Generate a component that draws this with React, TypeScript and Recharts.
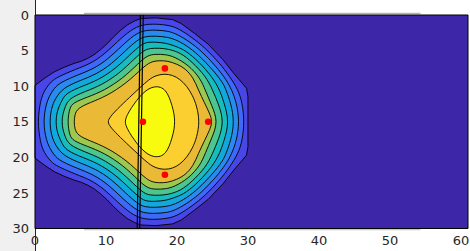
import { ComposedChart, Scatter, XAxis, YAxis, ReferenceLine } from "recharts";

type Pt = [number, number];

const xTicks = [0, 10, 20, 30, 40, 50, 60];
const yTicks = [0, 5, 10, 15, 20, 25, 30];

// parula-like fill colours, background first, then one per contour level
const levelColors = [
  "#3e26a8",
  "#4846e6",
  "#3e69f8",
  "#2a8bee",
  "#13a8dc",
  "#17bdbd",
  "#4cc58f",
  "#9dc850",
  "#eab935",
  "#fccf30",
  "#f9fb0e",
];

const frame: Pt[] = [[0, 0], [61, 0], [61, 30], [0, 30]];

// contour lines, outermost first
const level1: Pt[] = [
  [0, 9.9], [1.4, 8.85], [2.7, 8.0], [4.1, 7.35], [5.5, 6.8], [6.5, 6.5], [7.4, 6.1], [8.3, 5.6],
  [9.2, 4.9], [10.2, 4.0], [11.1, 3.05], [12.0, 2.2], [13.0, 1.4], [14.0, 0.85], [14.9, 0.5],
  [17.0, 0.4], [19.4, 0.65], [20.6, 1.2], [22.5, 2.6], [24.4, 4.1], [26.5, 6.3], [28.0, 8.2],
  [29.8, 10.3], [30.0, 11.5], [30.0, 18.5], [29.8, 19.7], [28.0, 21.8], [26.5, 23.7], [24.4, 25.9],
  [22.5, 27.4], [20.6, 28.8], [19.4, 29.35], [17.0, 29.6], [14.9, 29.5], [14.0, 29.15], [13.0, 28.6],
  [12.0, 27.8], [11.1, 26.95], [10.2, 26.0], [9.2, 25.1], [8.3, 24.4], [7.4, 23.9], [6.5, 23.5],
  [5.5, 23.2], [4.1, 22.65], [2.7, 22.0], [1.4, 21.15], [0, 20.1],
];
const level2: Pt[] = [
  [0.45, 15], [0.55, 13.6], [0.75, 12.3], [1.05, 11.2], [1.6, 10.2], [2.3, 9.35], [3.11, 8.74],
  [5.81, 7.59], [7.78, 6.86], [9.74, 5.56], [11.68, 3.67], [13.47, 2.11], [15.09, 1.33], [17.0, 1.25],
  [19.0, 1.45], [20.3, 1.95], [22.1, 3.15], [23.94, 4.59], [26.0, 6.75], [27.45, 8.65], [28.6, 10.5],
  [29.2, 12.3], [29.5, 15], [29.2, 17.7], [28.6, 19.5], [27.45, 21.35], [26.0, 23.25], [23.94, 25.41],
  [22.1, 26.85], [20.3, 28.05], [19.0, 28.55], [17.0, 28.75], [15.09, 28.67], [13.47, 27.89],
  [11.68, 26.33], [9.74, 24.44], [7.78, 23.14], [5.81, 22.41], [3.11, 21.26], [2.3, 20.65],
  [1.6, 19.8], [1.05, 18.8], [0.75, 17.7], [0.55, 16.4],
];
const level3: Pt[] = [
  [1.25, 15], [1.35, 13.7], [1.6, 12.5], [2.0, 11.4], [2.7, 10.3], [3.52, 9.49], [6.13, 8.38],
  [8.17, 7.61], [10.27, 6.23], [12.26, 4.3], [13.94, 2.82], [15.27, 2.16], [17.0, 2.1], [18.8, 2.25],
  [20.0, 2.7], [21.7, 3.7], [23.48, 5.08], [25.5, 7.2], [26.95, 9.1], [27.7, 10.5], [28.4, 12.3],
  [28.8, 15], [28.4, 17.7], [27.7, 19.5], [26.95, 20.9], [25.5, 22.8], [23.48, 24.92], [21.7, 26.3],
  [20.0, 27.3], [18.8, 27.75], [17.0, 27.9], [15.27, 27.84], [13.94, 27.18], [12.26, 25.7],
  [10.27, 23.77], [8.17, 22.39], [6.13, 21.62], [3.52, 20.51], [2.7, 19.7], [2.0, 18.6], [1.6, 17.5],
  [1.35, 16.3],
];
const level4: Pt[] = [
  [2.1, 15], [2.2, 13.8], [2.45, 12.7], [2.9, 11.7], [3.94, 10.23], [6.44, 9.17], [8.55, 8.37],
  [10.81, 6.89], [12.83, 4.92], [14.4, 3.53], [15.46, 2.99], [17.0, 2.95], [18.6, 3.1], [19.7, 3.4],
  [21.3, 4.25], [23.01, 5.57], [25.05, 7.71], [26.47, 9.51], [26.9, 10.5], [27.6, 12.4], [28.1, 15],
  [27.6, 17.6], [26.9, 19.5], [26.47, 20.49], [25.05, 22.29], [23.01, 24.43], [21.3, 25.75],
  [19.7, 26.6], [18.6, 26.9], [17.0, 27.05], [15.46, 27.01], [14.4, 26.47], [12.83, 25.08],
  [10.81, 23.11], [8.55, 21.63], [6.44, 20.83], [3.94, 19.77], [2.9, 18.3], [2.45, 17.3], [2.2, 16.2],
];
const level5: Pt[] = [
  [2.95, 15], [3.05, 13.9], [3.35, 12.9], [3.8, 12.0], [4.35, 10.98], [6.76, 9.96], [8.93, 9.13],
  [11.34, 7.55], [13.41, 5.55], [14.87, 4.24], [15.65, 3.82], [17.0, 3.8], [18.5, 3.95], [19.5, 4.3],
  [20.9, 4.8], [22.55, 6.06], [24.57, 8.18], [25.9, 10.2], [26.6, 12.2], [27.4, 15], [26.6, 17.8],
  [25.9, 19.8], [24.57, 21.82], [22.55, 23.94], [20.9, 25.2], [19.5, 25.7], [18.5, 26.05], [17.0, 26.2],
  [15.65, 26.18], [14.87, 25.76], [13.41, 24.45], [11.34, 22.45], [8.93, 20.87], [6.76, 20.04],
  [4.35, 19.02], [3.8, 18.0], [3.35, 17.1], [3.05, 16.1],
];
const level6: Pt[] = [
  [3.8, 15], [3.9, 14.0], [4.2, 13.0], [4.76, 11.72], [7.07, 10.75], [9.31, 9.88], [11.88, 8.22],
  [13.99, 6.17], [15.34, 4.95], [16.2, 4.68], [17.5, 4.65], [18.8, 4.78], [20.49, 5.3], [22.09, 6.55],
  [24.09, 8.65], [25.0, 10.5], [25.9, 12.6], [26.6, 15], [25.9, 17.4], [25.0, 19.5], [24.09, 21.35],
  [22.09, 23.45], [20.49, 24.7], [18.8, 25.22], [17.5, 25.35], [16.2, 25.32], [15.34, 25.05],
  [13.99, 23.83], [11.88, 21.78], [9.31, 20.12], [7.07, 19.25], [4.76, 18.28], [4.2, 17.0], [3.9, 16.0],
];
const level7: Pt[] = [
  [4.65, 15], [4.72, 14.0], [4.92, 13.1], [5.3, 12.35], [7.39, 11.54], [9.7, 10.64], [12.41, 8.88],
  [14.57, 6.8], [15.81, 5.66], [17.0, 5.5], [18.4, 5.55], [19.6, 5.85], [21.63, 7.03], [23.3, 8.9],
  [24.0, 10.6], [24.9, 12.7], [25.8, 15], [24.9, 17.3], [24.0, 19.4], [23.3, 21.1], [21.63, 22.97],
  [19.6, 24.15], [18.4, 24.45], [17.0, 24.5], [15.81, 24.34], [14.57, 23.2], [12.41, 21.12],
  [9.7, 19.36], [7.39, 18.46], [5.3, 17.65], [4.92, 16.9], [4.72, 16.0],
];
const level8: Pt[] = [
  [5.5, 15], [5.6, 14.0], [6.0, 13.1], [7.7, 12.33], [10.08, 11.4], [12.95, 9.54], [15.15, 7.42],
  [16.3, 6.55], [17.5, 6.4], [18.7, 6.45], [20.0, 6.9], [21.16, 7.52], [22.3, 8.8], [23.0, 10.5],
  [23.9, 12.4], [24.6, 13.8], [25.0, 15], [24.6, 16.2], [23.9, 17.6], [23.0, 19.5], [22.3, 21.2],
  [21.16, 22.48], [20.0, 23.1], [18.7, 23.55], [17.5, 23.6], [16.3, 23.45], [15.15, 22.58],
  [12.95, 20.46], [10.08, 18.6], [7.7, 17.67], [6.0, 16.9], [5.6, 16.0],
];
const level9: Pt[] = [
  [10.2, 15], [10.6, 14.3], [11.5, 13.3], [13.4, 11.5], [14.8, 10.2], [16.0, 9.1], [17.0, 8.5],
  [18.2, 8.25], [19.4, 8.45], [20.4, 9.0], [21.4, 10.0], [22.2, 11.3], [22.8, 12.8], [23.2, 15],
  [22.8, 17.2], [22.2, 18.7], [21.4, 20.0], [20.4, 21.0], [19.4, 21.55], [18.2, 21.75], [17.0, 21.5],
  [16.0, 20.9], [14.8, 19.8], [13.4, 18.5], [11.5, 16.7], [10.6, 15.7],
];
const level10: Pt[] = [
  [12.6, 15], [13.0, 14.0], [13.6, 13.0], [14.3, 12.0], [15.1, 11.1], [15.9, 10.4], [16.8, 10.05],
  [17.7, 10.1], [18.4, 10.6], [18.9, 11.5], [19.3, 12.7], [19.6, 13.9], [19.7, 15], [19.6, 16.1],
  [19.3, 17.3], [18.9, 18.5], [18.4, 19.4], [17.7, 19.9], [16.8, 19.95], [15.9, 19.6], [15.1, 18.9],
  [14.3, 18.0], [13.6, 17.0], [13.0, 16.0],
];

const innerLevels = [level2, level3, level4, level5, level6, level7, level8, level9, level10];

const guideA: Pt[] = [[14.85, 0], [14.4, 30]];
const guideB: Pt[] = [[15.25, 0], [14.75, 30]];

const markers: Pt[] = [[15.2, 15], [24.4, 15], [18.3, 7.5], [18.3, 22.45]];

const toRows = (pts: Pt[]) => pts.map(([x, y]) => ({ x, y }));
const NoShape = () => <g />;

const tickStyle = { fontSize: 13, fill: "#262626", fontFamily: "DejaVu Sans" };

export default function App() {
  return (
    <div style={{ position: "absolute", left: 0, top: 0, width: 470, height: 251, background: "#fff" }}>
      <div
        style={{
          position: "absolute",
          left: 0,
          top: 0,
          width: 35,
          height: 251,
          background: "#f0f0f0",
          borderRight: "1px solid #262626",
        }}
      />
      <ComposedChart
        width={470}
        height={251}
        margin={{ top: 15, right: 2, bottom: 0, left: 0 }}
        style={{ position: "absolute", left: 0, top: 0 }}
      >
        <XAxis
          type="number"
          dataKey="x"
          domain={[0, 61]}
          ticks={xTicks}
          interval={0}
          height={22.5}
          axisLine={false}
          tickLine={false}
          tickSize={5}
          tickMargin={2.5}
          tick={tickStyle}
        />
        <YAxis
          type="number"
          dataKey="y"
          domain={[0, 30]}
          reversed
          ticks={yTicks}
          interval={0}
          width={35}
          axisLine={false}
          tickLine={false}
          tickSize={4}
          tickMargin={2}
          tick={tickStyle}
        />
        <Scatter
          data={toRows(frame)}
          shape={NoShape}
          line={{ fill: levelColors[0], stroke: "none" }}
          lineJointType="linearClosed"
          isAnimationActive={false}
        />
        <Scatter
          data={toRows(level1)}
          shape={NoShape}
          line={{ fill: levelColors[1], stroke: "#000", strokeWidth: 0.9 }}
          lineJointType="linearClosed"
          isAnimationActive={false}
        />
        {innerLevels.map((pts, i) => (
          <Scatter
            key={i}
            data={toRows(pts)}
            shape={NoShape}
            line={{ fill: levelColors[i + 2], stroke: "#000", strokeWidth: 0.9 }}
            lineJointType="basisClosed"
            isAnimationActive={false}
          />
        ))}
        <Scatter
          data={toRows(guideA)}
          shape={NoShape}
          line={{ fill: "none", stroke: "#000", strokeWidth: 1.2 }}
          isAnimationActive={false}
        />
        <Scatter
          data={toRows(guideB)}
          shape={NoShape}
          line={{ fill: "none", stroke: "#000", strokeWidth: 1.2 }}
          isAnimationActive={false}
        />
        <Scatter
          data={toRows(markers)}
          shape={(p: any) => <circle cx={p.cx} cy={p.cy} r={3.3} fill="#ff0000" />}
          isAnimationActive={false}
        />
        <Scatter
          data={toRows(frame)}
          shape={NoShape}
          line={{ fill: "none", stroke: "#000", strokeWidth: 1 }}
          lineJointType="linearClosed"
          isAnimationActive={false}
        />
        <ReferenceLine
          segment={[{ x: 6.9, y: -0.2 }, { x: 54.3, y: -0.2 }]}
          stroke="#b4b4b4"
          strokeWidth={1.5}
          ifOverflow="visible"
        />
        <ReferenceLine
          segment={[{ x: 6.9, y: 30.15 }, { x: 54.3, y: 30.15 }]}
          stroke="#c8c8c8"
          strokeWidth={1.5}
          ifOverflow="visible"
        />
      </ComposedChart>
    </div>
  );
}
